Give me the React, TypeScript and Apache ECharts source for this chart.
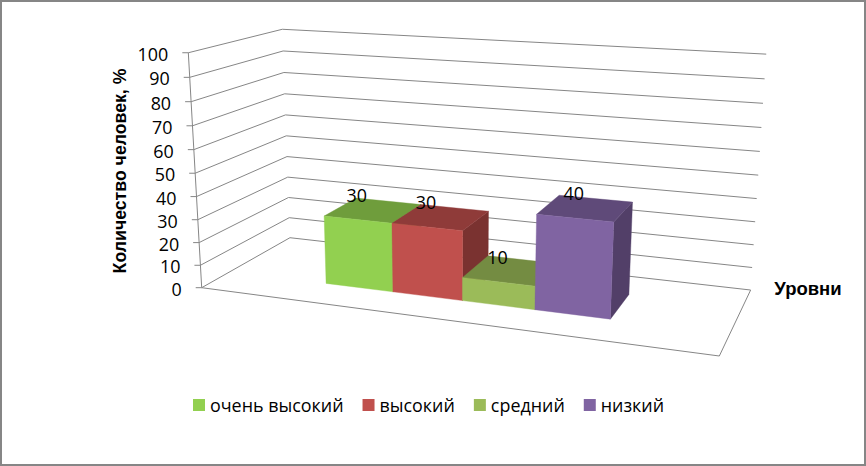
import React, { useEffect, useRef } from "react";
import * as echarts from "echarts";

const category = ["Уровни"];
const seriesNames = ["очень высокий", "высокий", "средний", "низкий"];
const seriesValues = [30, 30, 10, 40];
const seriesColors = ["#92D050", "#C0504D", "#9BBB59", "#8064A2"];
const topColors = ["#6F9D3C", "#8F3B39", "#748C42", "#5F4A79"];
const sideColors = ["#5F8733", "#7A3230", "#637838", "#523F68"];
const yTicks = [0, 10, 20, 30, 40, 50, 60, 70, 80, 90, 100];
const yTitle = "Количество человек, %";
const xTitle = "Уровни";

const FONT = '"Open Sans", sans-serif';
const LINE = "#868686";

// Projective camera of the 3-D box: u along the categories, v along values, w in depth (all 0..1).
function project(u: number, v: number, w: number): [number, number] {
  const d = 1 - 0.1371 * u + 0.1329 * w - 0.05 * v;
  return [
    (201.7 + 419 * u + 126.8 * w - 22.8 * v) / d,
    (287.7 + 19.5 * u - 18.4 * w - 237.6 * v) / d,
  ];
}

const line = (a: number[], b: number[], w = 1) => ({
  type: "line",
  silent: true,
  shape: { x1: a[0], y1: a[1], x2: b[0], y2: b[1] },
  style: { stroke: LINE, lineWidth: w },
});
const poly = (pts: number[][], fill: string) => ({
  type: "polygon",
  shape: { points: pts },
  style: { fill, stroke: fill, lineWidth: 0.4 },
});

function renderWalls(params: any, api: any) {
  const cs = params.coordSys;
  const v = (cs.y + cs.height - api.coord([0, api.value(1)])[1]) / cs.height;
  const front = project(0, v, 0);
  const back = project(0, v, 1);
  const right = project(1, v, 1);
  const children: any[] = [
    line([front[0] - 6, front[1]], front),
    { type: "text", silent: true, style: { text: String(api.value(1)), x: front[0] - 20, y: front[1] + 1, align: "right", verticalAlign: "middle", font: `17.9px ${FONT}`, fill: "#000" } },
    line(front, back),
    line(back, right),
  ];
  if (params.dataIndex === 0) {
    children.push(
      line(project(0, 0, 0), project(0, 1, 0)),
      line(project(0, 0, 0), project(1, 0, 0)),
      line(project(1, 0, 0), project(1, 0, 1))
    );
  }
  return { type: "group", children };
}

function renderBar(params: any, api: any) {
  const cs = params.coordSys;
  const i = params.seriesIndex - 1;
  const pt = api.coord([0, api.value(1)]);
  const band = api.size([1, 0])[0];
  const slot = band / 7;
  const left = pt[0] - band / 2 + slot * (1.5 + i);
  const u0 = (left - cs.x) / cs.width;
  const u1 = (left + slot - cs.x) / cs.width;
  const v = (cs.y + cs.height - pt[1]) / cs.height;
  const w0 = 0.3;
  const w1 = 0.7;
  const p = (u: number, h: number, w: number) => project(u, h, w);
  const mid = p((u0 + u1) / 2, v, w0);
  return {
    type: "group",
    children: [
      poly([p(u1, 0, w0), p(u1, 0, w1), p(u1, v, w1), p(u1, v, w0)], sideColors[i]),
      poly([p(u0, v, w0), p(u1, v, w0), p(u1, v, w1), p(u0, v, w1)], topColors[i]),
      poly([p(u0, 0, w0), p(u1, 0, w0), p(u1, v, w0), p(u0, v, w0)], seriesColors[i]),
      { type: "text", silent: true, style: { text: String(api.value(1)), x: mid[0] - 1, y: mid[1] - 25, align: "center", verticalAlign: "middle", font: `17.9px ${FONT}`, fill: "#000" } },
    ],
  };
}

export default function App() {
  const ref = useRef<HTMLDivElement>(null);
  useEffect(() => {
    const chart = echarts.init(ref.current!, undefined, { renderer: "svg" });
    chart.setOption({
      animation: false,
      backgroundColor: "#fff",
      grid: { left: 200, top: 50, width: 500, height: 240 },
      xAxis: { type: "category", data: category, show: false },
      yAxis: { type: "value", min: 0, max: 100, interval: 10, show: false },
      legend: {
        data: seriesNames,
        left: 193,
        top: 396,
        padding: 0,
        icon: "rect",
        itemWidth: 12,
        itemHeight: 12,
        itemGap: 19,
        selectedMode: false,
        textStyle: { fontFamily: FONT, fontSize: 17.9, color: "#000" },
      },
      graphic: [
        { type: "rect", z: -10, silent: true, shape: { x: 1, y: 1, width: 864, height: 464 }, style: { fill: "#fff", stroke: LINE, lineWidth: 2 } },
        { type: "text", silent: true, rotation: Math.PI / 2, x: 120, y: 171, style: { text: yTitle, align: "center", verticalAlign: "middle", font: `bold 17.7px "Liberation Sans", sans-serif`, fill: "#000" } },
        { type: "text", silent: true, x: 808, y: 288, style: { text: xTitle, align: "center", verticalAlign: "middle", font: `bold 18.5px "Liberation Sans", sans-serif`, fill: "#000" } },
      ],
      series: [
        { type: "custom", name: "axes", silent: true, clip: false, renderItem: renderWalls, encode: { x: 0, y: 1 }, data: yTicks.map((t) => [0, t]) },
        ...seriesNames.map((name, i) => ({
          type: "custom",
          name,
          silent: true,
          clip: false,
          renderItem: renderBar,
          itemStyle: { color: seriesColors[i] },
          encode: { x: 0, y: 1 },
          data: [[0, seriesValues[i]]],
        })),
      ],
    });
    return () => chart.dispose();
  }, []);
  return <div ref={ref} style={{ position: "absolute", left: 0, top: 0, width: 866, height: 466 }} />;
}
